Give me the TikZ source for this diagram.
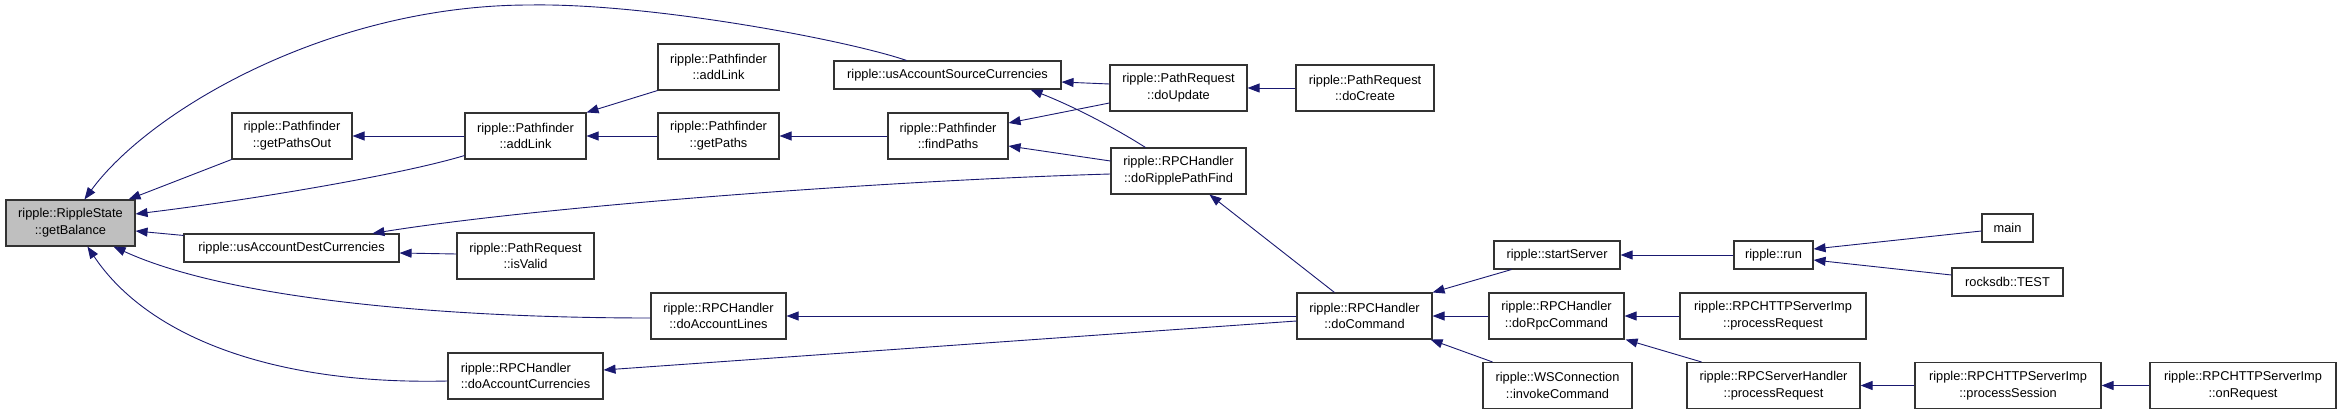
\documentclass[tikz,border=0pt]{standalone}
\usepackage{fontspec}
\setmainfont{Liberation Sans}
\usetikzlibrary{arrows.meta,calc}
\definecolor{edgeblue}{HTML}{191970}
\definecolor{nodegray}{HTML}{BFBFBF}
\definecolor{border}{HTML}{333333}
\tikzset{
  fn/.style={draw=border, line width=1.1pt, fill=white, inner sep=0pt, align=center,
    font=\fontsize{12.8}{16.7}\selectfont, minimum height=46pt},
  one/.style={minimum height=28pt},
  e/.style={draw=edgeblue, line width=0.9pt, -{Triangle[length=12pt,width=9pt]}}
}
\begin{document}
\begin{tikzpicture}[x=1pt,y=-1pt]
\useasboundingbox (0,0) rectangle (2341,414);
% nodes
\node[fn, fill=nodegray, minimum width=129pt] (gb) at (70.5,223) {ripple::RippleState\\::getBalance};
\node[fn, minimum width=120pt] (gpo) at (292,136) {ripple::Pathfinder\\::getPathsOut};
\node[fn, minimum width=121pt] (al) at (525.5,136) {ripple::Pathfinder\\::addLink};
\node[fn, one, minimum width=215pt] (udc) at (291.5,248) {ripple::usAccountDestCurrencies};
\node[fn, minimum width=137pt] (iv) at (525.5,256) {ripple::PathRequest\\::isValid};
\node[fn, minimum width=155pt, align=left] (dac) at (525.5,376) {ripple::RPCHandler\\::doAccountCurrencies};
\node[fn, minimum width=121pt] (alt) at (718.5,67) {ripple::Pathfinder\\::addLink};
\node[fn, minimum width=121pt] (gp) at (718.5,136) {ripple::Pathfinder\\::getPaths};
\node[fn, minimum width=120pt] (fp) at (948,136) {ripple::Pathfinder\\::findPaths};
\node[fn, one, minimum width=227pt] (usc) at (947.5,75) {ripple::usAccountSourceCurrencies};
\node[fn, minimum width=135pt] (dal) at (718.5,316) {ripple::RPCHandler\\::doAccountLines};
\node[fn, minimum width=137pt] (du) at (1178.5,88) {ripple::PathRequest\\::doUpdate};
\node[fn, minimum width=138pt] (dc) at (1365,88) {ripple::PathRequest\\::doCreate};
\node[fn, minimum width=135pt] (drpf) at (1178.5,171) {ripple::RPCHandler\\::doRipplePathFind};
\node[fn, minimum width=135pt] (dcmd) at (1364.5,316) {ripple::RPCHandler\\::doCommand};
\node[fn, one, minimum width=126pt] (ss) at (1557,255) {ripple::startServer};
\node[fn, minimum width=135pt] (drc) at (1556.5,316) {ripple::RPCHandler\\::doRpcCommand};
\node[fn, minimum width=149pt] (ic) at (1557.5,385.5) {ripple::WSConnection\\::invokeCommand};
\node[fn, one, minimum width=79pt] (run) at (1773.5,255) {ripple::run};
\node[fn, minimum width=186pt] (hpr) at (1773,316) {ripple::RPCHTTPServerImp\\::processRequest};
\node[fn, minimum width=173pt] (spr) at (1773.5,385.5) {ripple::RPCServerHandler\\::processRequest};
\node[fn, one, minimum width=51pt] (main) at (2007.5,228) {main};
\node[fn, one, minimum width=111pt] (test) at (2007.5,282) {rocksdb::TEST};
\node[fn, minimum width=186pt] (ps) at (2008,385.5) {ripple::RPCHTTPServerImp\\::processSession};
\node[fn, minimum width=186pt] (or) at (2243,385.5) {ripple::RPCHTTPServerImp\\::onRequest};
% edges
\draw[e] ($(usc.north west)+(73,0)$) .. controls (847,40) and (650,3) .. (530,5)
   .. controls (330,5) and (150,110) .. ($(gb.north west)+(79,0)$);
\draw[e] (gpo.south west) -- ($(gb.north east)+(-7,0)$);
\draw[e] ($(al.south west)+(0,-4)$) .. controls (400,175) and (250,200) .. ($(gb.east)+(0,-9)$);
\draw[e] ($(udc.north west)+(0,2)$) -- ($(gb.east)+(0,8)$);
\draw[e] ($(drpf.west)+(0,3)$) .. controls (900,180) and (550,205) .. ($(udc.north west)+(189,0)$);
\draw[e] ($(iv.west)+(0,-2)$) -- ($(udc.east)+(0,5)$);
\draw[e] ($(dal.west)+(0,2)$) .. controls (450,318) and (230,300) .. ($(gb.south east)+(-22,0)$);
\draw[e] ($(dac.west)+(0,5)$) .. controls (280,385) and (150,340) .. ($(gb.south west)+(82,0)$);
\draw[e] (al.west) -- (gpo.east);
\draw[e] (alt.south west) -- (al.north east);
\draw[e] (gp.west) -- (al.east);
\draw[e] (fp.west) -- (gp.east);
\draw[e] ($(du.west)+(0,15)$) -- ($(fp.east)+(0,-13)$);
\draw[e] ($(drpf.west)+(0,-10)$) -- ($(fp.east)+(0,10)$);
\draw[e] ($(du.west)+(0,-4)$) -- ($(usc.east)+(0,7)$);
\draw[e] ($(drpf.north west)+(35,0)$) .. controls (1110,125) and (1070,105) .. ($(usc.south east)+(-31,0)$);
\draw[e] (dc.west) -- (du.east);
\draw[e] ($(dcmd.north west)+(38,0)$) -- ($(drpf.south west)+(99,0)$);
\draw[e] (dcmd.west) -- (dal.east);
\draw[e] ($(dcmd.west)+(0,5)$) -- ($(dac.east)+(0,-6)$);
\draw[e] ($(ss.south west)+(18,0)$) -- (dcmd.north east);
\draw[e] (drc.west) -- (dcmd.east);
\draw[e] ($(ic.north west)+(10,0)$) -- ($(dcmd.south east)+(-2,0)$);
\draw[e] (run.west) -- (ss.east);
\draw[e] (hpr.west) -- (drc.east);
\draw[e] ($(spr.north west)+(15,0)$) -- ($(drc.south east)+(1,0)$);
\draw[e] ($(main.west)+(0,3)$) -- ($(run.east)+(0,-6)$);
\draw[e] ($(test.west)+(0,-7)$) -- ($(run.east)+(0,5)$);
\draw[e] (ps.west) -- (spr.east);
\draw[e] (or.west) -- (ps.east);
\end{tikzpicture}
\end{document}
